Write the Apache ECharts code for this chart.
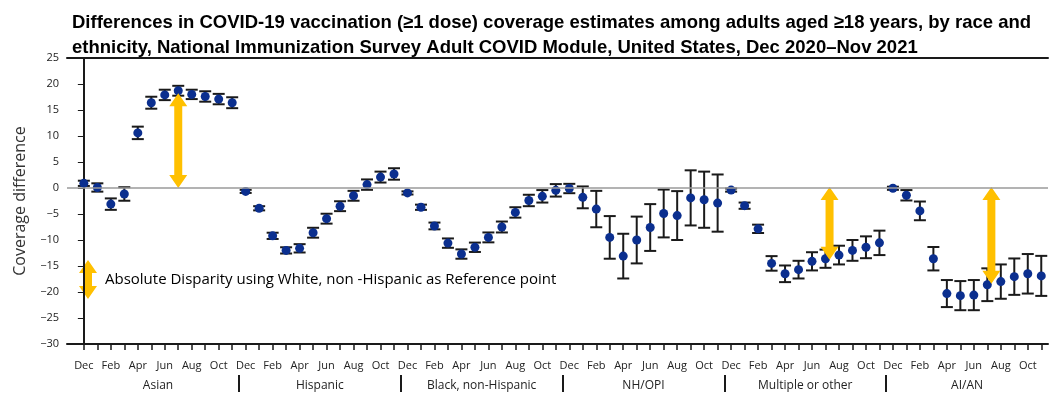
<!DOCTYPE html>
<html>
<head>
<meta charset="utf-8">
<script src="https://cdn.jsdelivr.net/npm/echarts@6/dist/echarts.min.js"></script>
<style>
html,body{margin:0;padding:0;background:#fff;}
#chart{width:1050px;height:394px;}
</style>
</head>
<body>
<div id="chart"></div>
<script>
// months shown per group, Dec 2020 .. Nov 2021
var months = ['Dec','Jan','Feb','Mar','Apr','May','Jun','Jul','Aug','Sep','Oct','Nov'];
var groups = ['Asian','Hispanic','Black, non-Hispanic','NH/OPI','Multiple or other','AI/AN'];

// coverage difference vs White, non-Hispanic (point estimate) and half width of CI
var asian        = [0.9, 0.1, -3.1, -1.15, 10.6, 16.4, 17.9, 18.7, 18.0, 17.6, 17.1, 16.4];
var asianErr     = [0.5, 0.8, 1.1, 1.3, 1.2, 1.15, 1.0, 0.95, 0.9, 1.0, 1.0, 1.05];
var hispanic     = [-0.65, -3.9, -9.2, -12.0, -11.6, -8.6, -5.9, -3.5, -1.5, 0.65, 2.1, 2.7];
var hispanicErr  = [0.3, 0.4, 0.6, 0.6, 0.8, 0.95, 0.95, 0.95, 0.95, 1.0, 1.05, 1.1];
var black        = [-0.95, -3.7, -7.3, -10.6, -12.7, -11.4, -9.5, -7.5, -4.7, -2.4, -1.6, -0.45];
var blackErr     = [0.3, 0.5, 0.65, 0.9, 0.9, 0.9, 0.95, 1.05, 1.0, 1.1, 1.2, 1.2];
var nhopi        = [-0.1, -1.8, -4.05, -9.5, -13.1, -10.0, -7.6, -4.9, -5.3, -1.9, -2.25, -2.9];
var nhopiErr     = [0.9, 2.1, 3.5, 4.1, 4.3, 4.5, 4.5, 4.6, 4.7, 5.3, 5.4, 5.5];
var multiple     = [-0.4, -3.4, -7.85, -14.5, -16.5, -15.7, -14.1, -13.6, -12.9, -12.0, -11.4, -10.55];
var multipleErr  = [0.3, 0.6, 0.8, 1.4, 1.6, 1.7, 1.75, 1.75, 1.8, 2.0, 2.1, 2.35];
var aian         = [-0.05, -1.4, -4.4, -13.6, -20.3, -20.7, -20.6, -18.6, -18.0, -17.05, -16.5, -16.9];
var aianErr      = [0.3, 1.0, 1.8, 2.25, 2.6, 2.8, 2.9, 3.15, 3.3, 3.5, 3.8, 3.85];

// disparity arrows: position on the month axis, and the two ends
var arrowPos    = [7, 55.3, 67.3];
var arrowTop    = [18.2, 0.2, 0.2];
var arrowBottom = [0, -13.8, -18.4];

var yMin = -30, yMax = 25, yStep = 5;

var allValues = [asian, hispanic, black, nhopi, multiple, aian];
var allErrors = [asianErr, hispanicErr, blackErr, nhopiErr, multipleErr, aianErr];

var points = [], bars = [];
for (var g = 0; g < allValues.length; g++) {
    for (var m = 0; m < 12; m++) {
        var idx = g * 12 + m;
        var v = allValues[g][m], e = allErrors[g][m];
        points.push([idx, v]);
        bars.push([idx, v - e, v + e]);
    }
}
var arrows = [];
for (var i = 0; i < arrowPos.length; i++) {
    arrows.push([arrowPos[i], arrowTop[i], arrowBottom[i]]);
}

var tickVals = [], labelVals = [], groupMid = [], groupSep = [];
for (var k = 0; k < 72; k++) {
    tickVals.push(k);
    if (k % 2 == 0) labelVals.push(k);
}
for (var g2 = 0; g2 < groups.length; g2++) {
    groupMid.push(g2 * 12 + 5.5);
    if (g2 > 0) groupSep.push(g2 * 12 - 0.5);
}

// double headed arrow outline, pixel coords
function arrowShape(x, y1, y2) {
    var hw = 9, hl = 13, sw = 4;
    return [
        [x, y1], [x + hw, y1 + hl], [x + sw, y1 + hl], [x + sw, y2 - hl], [x + hw, y2 - hl],
        [x, y2], [x - hw, y2 - hl], [x - sw, y2 - hl], [x - sw, y1 + hl], [x - hw, y1 + hl]
    ];
}

var yellow = '#FFC000';
var ink = '#1a1a1a';
var font = '"Open Sans", "Liberation Sans", sans-serif';

var chart = echarts.init(document.getElementById('chart'));
var option = {
    animation: false,
    title: {
        text: 'Differences in COVID-19 vaccination (≥1 dose) coverage estimates among adults aged ≥18 years, by race and\nethnicity, National Immunization Survey Adult COVID Module, United States, Dec 2020–Nov 2021',
        left: 67,
        top: 5,
        textStyle: {
            fontFamily: '"Liberation Sans", sans-serif',
            fontWeight: 'bold',
            fontSize: 18.5,
            lineHeight: 25,
            color: '#000'
        }
    },
    grid: { left: 67, right: 2, top: 58, bottom: 50 },
    xAxis: [{
        type: 'value',
        min: -1.25,
        max: 71.5,
        splitLine: { show: false },
        axisLine: { onZero: false, lineStyle: { color: ink, width: 2 } },
        axisTick: { customValues: tickVals, length: 6, lineStyle: { color: ink, width: 1.5 } },
        axisLabel: {
            customValues: labelVals,
            margin: 16,
            fontFamily: font,
            fontSize: 11,
            color: '#222',
            formatter: function (v) { return months[Math.round(v) % 12]; }
        }
    }, {
        type: 'value',
        position: 'top',
        min: -1.25,
        max: 71.5,
        splitLine: { show: false },
        axisLine: { onZero: false, lineStyle: { color: ink, width: 2 } },
        axisTick: { show: false },
        axisLabel: { show: false }
    }, {
        type: 'value',
        position: 'bottom',
        offset: 31,
        min: -1.25,
        max: 71.5,
        splitLine: { show: false },
        axisLine: { show: false, onZero: false },
        axisTick: { customValues: groupSep, length: 17, lineStyle: { color: ink, width: 2 } },
        axisLabel: {
            customValues: groupMid,
            margin: 5,
            fontFamily: font,
            fontSize: 12,
            color: '#222',
            formatter: function (v) { return groups[Math.floor(v / 12)]; }
        }
    }],
    yAxis: {
        type: 'value',
        min: yMin,
        max: yMax,
        interval: yStep,
        name: 'Coverage difference',
        nameLocation: 'middle',
        nameGap: 39,
        nameTextStyle: { fontFamily: font, fontSize: 16, color: '#333' },
        splitLine: { show: false },
        axisLine: { show: true, lineStyle: { color: ink, width: 2 } },
        axisTick: { show: true, length: 6, lineStyle: { color: ink } },
        axisLabel: {
            fontFamily: font,
            fontSize: 11,
            color: '#222',
            margin: 8,
            formatter: function (v) { return String(v).replace('-', '−'); }
        }
    },
    graphic: [{
        type: 'polygon',
        shape: { points: arrowShape(88, 260, 299) },
        style: { fill: yellow }
    }, {
        type: 'text',
        left: 105,
        top: 272,
        style: {
            text: 'Absolute Disparity using White, non -Hispanic as Reference point',
            font: '15px "Open Sans", "Liberation Sans", sans-serif',
            fill: '#000'
        }
    }],
    series: [{
        name: 'ci',
        type: 'custom',
        z: 2,
        silent: true,
        data: bars,
        renderItem: function (params, api) {
            var lo = api.coord([api.value(0), api.value(1)]);
            var hi = api.coord([api.value(0), api.value(2)]);
            var cw = 6;
            var st = { stroke: ink, lineWidth: 2 };
            return {
                type: 'group',
                children: [
                    { type: 'line', shape: { x1: lo[0], y1: lo[1], x2: hi[0], y2: hi[1] }, style: st },
                    { type: 'line', shape: { x1: lo[0] - cw, y1: lo[1], x2: lo[0] + cw, y2: lo[1] }, style: st },
                    { type: 'line', shape: { x1: hi[0] - cw, y1: hi[1], x2: hi[0] + cw, y2: hi[1] }, style: st }
                ]
            };
        }
    }, {
        name: 'estimate',
        type: 'scatter',
        z: 3,
        symbolSize: 9,
        itemStyle: { color: '#0b2f8f', opacity: 1 },
        data: points,
        markLine: {
            silent: true,
            symbol: ['none', 'none'],
            label: { show: false },
            lineStyle: { color: '#9a9a9a', width: 1.5, type: 'solid' },
            data: [{ yAxis: 0 }]
        }
    }, {
        name: 'disparity',
        type: 'custom',
        z: 4,
        silent: true,
        data: arrows,
        renderItem: function (params, api) {
            var a = api.coord([api.value(0), api.value(1)]);
            var b = api.coord([api.value(0), api.value(2)]);
            return {
                type: 'polygon',
                shape: { points: arrowShape(a[0], a[1], b[1]) },
                style: { fill: yellow }
            };
        }
    }]
};
chart.setOption(option);
</script>
</body>
</html>
